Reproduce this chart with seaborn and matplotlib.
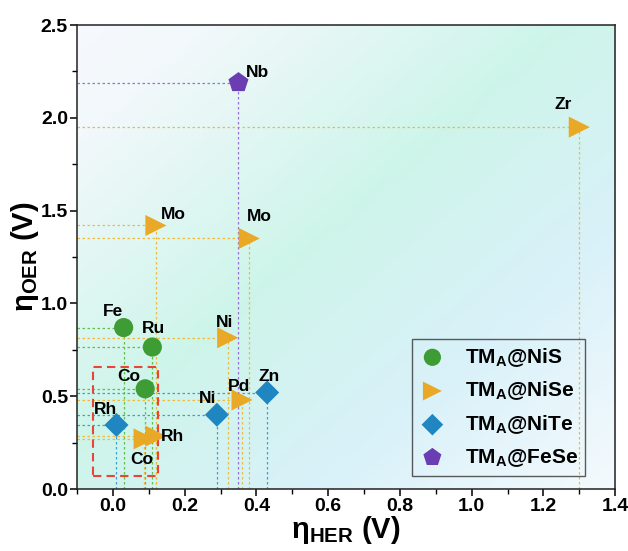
import numpy as np
import pandas as pd
import matplotlib
matplotlib.use("Agg")
import matplotlib.pyplot as plt
from matplotlib.colors import LinearSegmentedColormap
from matplotlib.patches import Rectangle
from matplotlib.ticker import MultipleLocator, FormatStrFormatter
import seaborn as sns

# ---------------- data ----------------
nis_elems = ["Fe", "Ru", "Co"]
nis_her = [0.03, 0.11, 0.09]
nis_oer = [0.87, 0.765, 0.54]

nise_elems = ["Zr", "Mo", "Mo", "Ni", "Pd", "Co", "Rh"]
nise_her = [1.30, 0.12, 0.38, 0.32, 0.36, 0.087, 0.12]
nise_oer = [1.95, 1.42, 1.35, 0.815, 0.48, 0.27, 0.285]

nite_elems = ["Zn", "Ni", "Rh"]
nite_her = [0.43, 0.29, 0.01]
nite_oer = [0.52, 0.40, 0.345]

fese_elems = ["Nb"]
fese_her = [0.35]
fese_oer = [2.19]

series_names = ["TM$_{\\mathrm{A}}$@NiS", "TM$_{\\mathrm{A}}$@NiSe",
                "TM$_{\\mathrm{A}}$@NiTe", "TM$_{\\mathrm{A}}$@FeSe"]

rows = []
for name, el, hx, oy in zip(series_names,
                            [nis_elems, nise_elems, nite_elems, fese_elems],
                            [nis_her, nise_her, nite_her, fese_her],
                            [nis_oer, nise_oer, nite_oer, fese_oer]):
    for e, h, o in zip(el, hx, oy):
        rows.append({"series": name, "element": e, "HER": h, "OER": o})
df = pd.DataFrame(rows)

# ---------------- style ----------------
sns.set_style("ticks")
plt.rcParams["font.family"] = ["Liberation Sans", "DejaVu Sans"]
plt.rcParams["font.weight"] = "bold"
plt.rcParams["mathtext.fontset"] = "custom"
plt.rcParams["mathtext.rm"] = "Liberation Sans:bold"
plt.rcParams["mathtext.it"] = "Liberation Sans:bold"
plt.rcParams["mathtext.bf"] = "Liberation Sans:bold"
for k in ["text.color", "axes.labelcolor", "xtick.color", "ytick.color"]:
    plt.rcParams[k] = "black"

colors = {series_names[0]: "#3e9c35", series_names[1]: "#e9a825",
          series_names[2]: "#1f86c1", series_names[3]: "#6a3db3"}
line_colors = {series_names[0]: "#5fbf4f", series_names[1]: "#f0bb3a",
               series_names[2]: "#3aa0d8", series_names[3]: "#9a70dc"}
markers = {series_names[0]: "o", series_names[1]: ">",
           series_names[2]: "D", series_names[3]: "p"}
sizes = {series_names[0]: 190, series_names[1]: 230,
         series_names[2]: 150, series_names[3]: 230}

fig = plt.figure(figsize=(6.28, 5.51), dpi=100)
ax = fig.add_axes([0.1226, 0.1125, 0.857, 0.842])

xmin, xmax, ymin, ymax = -0.1, 1.4, 0.0, 2.5
ax.set_xlim(xmin, xmax)
ax.set_ylim(ymin, ymax)

# gradient background
cmap = LinearSegmentedColormap.from_list(
    "bg", [(0.0, "#f6f9fd"), (0.12, "#f2f8fb"), (0.45, "#cef5ea"),
           (0.72, "#d9f1f9"), (1.0, "#f4fafd")])
gx, gy = np.meshgrid(np.linspace(0, 1, 300), np.linspace(1, 0, 300))
grad = (gx + (1 - gy)) / 2.0
ax.imshow(grad, cmap=cmap, extent=[0, 1, 0, 1], transform=ax.transAxes,
          aspect="auto", zorder=0, interpolation="bilinear")

# guide lines
for _, r in df.iterrows():
    c = line_colors[r["series"]]
    ax.plot([xmin, r["HER"]], [r["OER"], r["OER"]], ls=(0, (2, 2)), lw=0.9,
            color=c, zorder=1)
    ax.plot([r["HER"], r["HER"]], [ymin, r["OER"]], ls=(0, (2, 2)), lw=0.9,
            color=c, zorder=1)

# points
for name in series_names:
    sub = df[df["series"] == name]
    sns.scatterplot(data=sub, x="HER", y="OER", ax=ax, marker=markers[name],
                    s=sizes[name], color=colors[name], edgecolor="none",
                    label=name, zorder=3)

# labels (offsets in points)
offsets = {
    (3, 0): (14, 7),
    (1, 0): (-11.5, 16.5),
    (1, 1): (12.5, 8),
    (1, 2): (7, 16),
    (1, 3): (-2, 11),
    (1, 4): (-2, 10),
    (1, 5): (-2, -15),
    (1, 6): (12, 0),
    (0, 0): (-8, 11.5),
    (0, 1): (1, 13.7),
    (0, 2): (-12, 8.6),
    (2, 0): (1.5, 11.5),
    (2, 1): (-7, 12),
    (2, 2): (-8, 11.5),
}
for si, name in enumerate(series_names):
    sub = df[df["series"] == name].reset_index(drop=True)
    for i, r in sub.iterrows():
        dx, dy = offsets[(si, i)]
        ax.annotate(r["element"], (r["HER"], r["OER"]), xytext=(dx, dy),
                    textcoords="offset points", ha="center", va="center",
                    fontsize=12.5, fontweight="bold", color="black", zorder=4)

# red dashed box
ax.add_patch(Rectangle((-0.055, 0.07), 0.18, 0.587, fill=False,
                       edgecolor="#e8443a", lw=1.5, ls=(0, (4, 2.5)), zorder=2))

# axes formatting
ax.xaxis.set_major_locator(MultipleLocator(0.2))
ax.xaxis.set_minor_locator(MultipleLocator(0.1))
ax.yaxis.set_major_locator(MultipleLocator(0.5))
ax.yaxis.set_minor_locator(MultipleLocator(0.25))
ax.xaxis.set_major_formatter(FormatStrFormatter("%.1f"))
ax.yaxis.set_major_formatter(FormatStrFormatter("%.1f"))
ax.tick_params(which="major", direction="out", length=5, width=1.1,
               labelsize=14, color="black", pad=1.5)
ax.tick_params(which="minor", direction="out", length=3.5, width=1.0, color="black")
for lab in ax.get_xticklabels() + ax.get_yticklabels():
    lab.set_fontweight("bold")
for sp in ax.spines.values():
    sp.set_visible(True)
    sp.set_color("#222222")
    sp.set_linewidth(1.1)

ax.set_xlabel("η$_{\\mathrm{HER}}$ (V)", fontsize=21, fontweight="bold", labelpad=-1)
ax.set_ylabel("η$_{\\mathrm{OER}}$ (V)", fontsize=21, fontweight="bold", labelpad=0)

leg = ax.legend(loc="lower right", bbox_to_anchor=(0.944, 0.028), frameon=True,
                fancybox=False, edgecolor="#333333", fontsize=15,
                labelspacing=0.52, handletextpad=0.9, borderpad=0.35,
                handlelength=1.3, borderaxespad=0, markerscale=0.9)
leg.get_frame().set_linewidth(1.0)
leg.get_frame().set_facecolor("none")
for t in leg.get_texts():
    t.set_fontweight("bold")

fig.savefig("out.png", dpi=100)
